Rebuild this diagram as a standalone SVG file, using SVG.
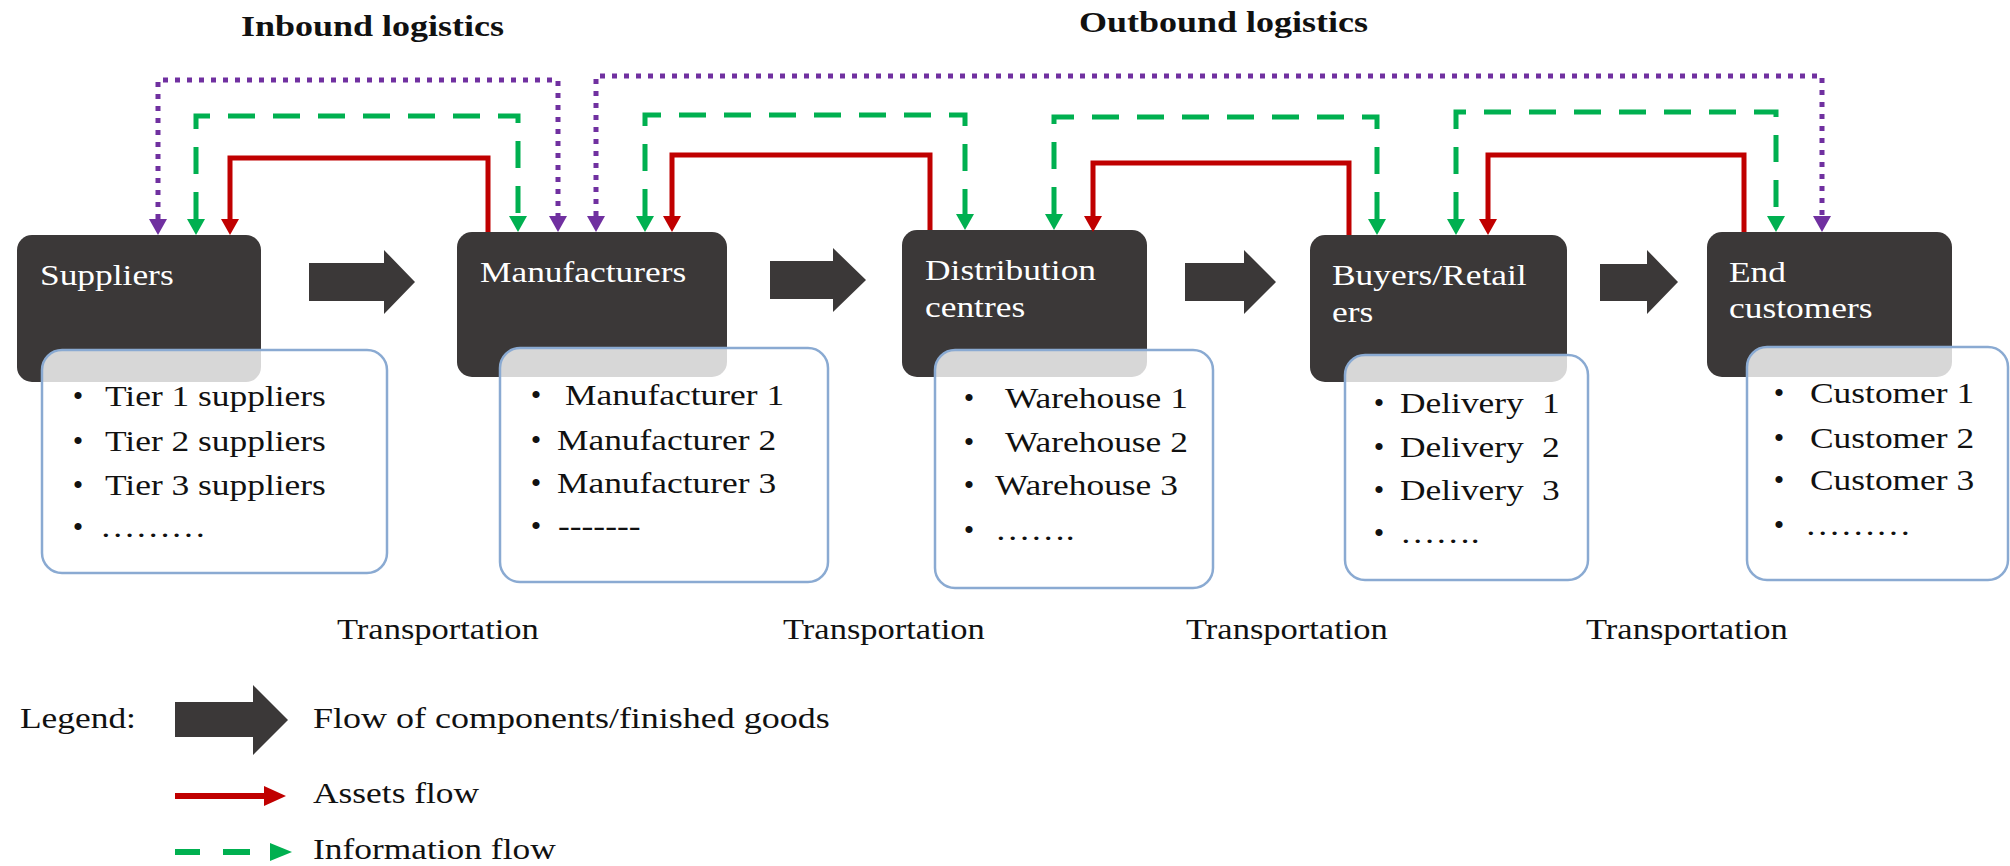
<svg xmlns="http://www.w3.org/2000/svg" width="2010" height="866" viewBox="0 0 2010 866">
<style>
  text { font-family: "Liberation Serif", "Times New Roman", serif; font-size: 30px; }
  .title { font-weight: bold; fill: #111; }
  .lbl { fill: #ffffff; }
  .item { fill: #111; }
  .bul { fill: #111; text-anchor: middle; }
  .node { fill: #3b3838; }
  .detail { fill: #ffffff; fill-opacity: 0.8; stroke: #8aaad2; stroke-width: 2.5; }
  .block { fill: #3b3838; }
  .red { fill: none; stroke: #c00000; stroke-width: 5; }
  .green { fill: none; stroke: #00b050; stroke-width: 5; stroke-dasharray: 27 18; }
  .purple { fill: none; stroke: #7030a0; stroke-width: 5; stroke-dasharray: 5 7; }
</style>
<defs>
  <marker id="mr" viewBox="0 -9 16 18" refX="0" refY="0" markerWidth="16" markerHeight="18" markerUnits="userSpaceOnUse" orient="auto-start-reverse">
    <path d="M0,-9 L16,0 L0,9 Z" fill="#c00000"/>
  </marker>
  <marker id="mg" viewBox="0 -9 16 18" refX="0" refY="0" markerWidth="16" markerHeight="18" markerUnits="userSpaceOnUse" orient="auto-start-reverse">
    <path d="M0,-9 L16,0 L0,9 Z" fill="#00b050"/>
  </marker>
  <marker id="mp" viewBox="0 -9 16 18" refX="0" refY="0" markerWidth="16" markerHeight="18" markerUnits="userSpaceOnUse" orient="auto-start-reverse">
    <path d="M0,-9 L16,0 L0,9 Z" fill="#7030a0"/>
  </marker>
</defs>
<rect x="0" y="0" width="2010" height="866" fill="#ffffff"/>

<g id="titles">
  <text class="title" transform="translate(241,36) scale(1.2,1)">Inbound logistics</text>
  <text class="title" transform="translate(1079,32) scale(1.2,1)">Outbound logistics</text>
</g>

<g id="node-suppliers">
  <rect class="node" x="17" y="235" width="244" height="147" rx="15"/>
  <text class="lbl" transform="translate(40,285) scale(1.18,1)">Suppliers</text>
  <rect class="detail" x="42" y="350" width="345" height="223" rx="20"/>
  <text class="bul" x="78" y="406">•</text>
  <text class="item" transform="translate(105,406) scale(1.18,1)">Tier 1 suppliers</text>
  <text class="bul" x="78" y="451">•</text>
  <text class="item" transform="translate(105,451) scale(1.18,1)">Tier 2 suppliers</text>
  <text class="bul" x="78" y="495">•</text>
  <text class="item" transform="translate(105,495) scale(1.18,1)">Tier 3 suppliers</text>
  <text class="bul" x="78" y="537">•</text>
  <text class="item" transform="translate(100,537) scale(1.18,1)">………</text>
</g>

<g id="node-manufacturers">
  <rect class="node" x="457" y="232" width="270" height="145" rx="15"/>
  <text class="lbl" transform="translate(480,282) scale(1.18,1)">Manufacturers</text>
  <rect class="detail" x="500" y="348" width="328" height="234" rx="20"/>
  <text class="bul" x="536" y="405">•</text>
  <text class="item" transform="translate(565,405) scale(1.18,1)">Manufacturer 1</text>
  <text class="bul" x="536" y="450">•</text>
  <text class="item" transform="translate(557,450) scale(1.18,1)">Manufacturer 2</text>
  <text class="bul" x="536" y="493">•</text>
  <text class="item" transform="translate(557,493) scale(1.18,1)">Manufacturer 3</text>
  <text class="bul" x="536" y="536">•</text>
  <text class="item" transform="translate(558,536) scale(1.18,1)">-------</text>
</g>

<g id="node-distribution">
  <rect class="node" x="902" y="230" width="245" height="147" rx="15"/>
  <text class="lbl" transform="translate(925,280) scale(1.18,1)">Distribution</text>
  <text class="lbl" transform="translate(925,317) scale(1.18,1)">centres</text>
  <rect class="detail" x="935" y="350" width="278" height="238" rx="20"/>
  <text class="bul" x="969" y="408">•</text>
  <text class="item" transform="translate(1005,408) scale(1.18,1)">Warehouse 1</text>
  <text class="bul" x="969" y="452">•</text>
  <text class="item" transform="translate(1005,452) scale(1.18,1)">Warehouse 2</text>
  <text class="bul" x="969" y="495">•</text>
  <text class="item" transform="translate(995,495) scale(1.18,1)">Warehouse 3</text>
  <text class="bul" x="969" y="540">•</text>
  <text class="item" transform="translate(995,540) scale(1.18,1)">…….</text>
</g>

<g id="node-buyers">
  <rect class="node" x="1310" y="235" width="257" height="147" rx="15"/>
  <text class="lbl" transform="translate(1332,285) scale(1.18,1)">Buyers/Retail</text>
  <text class="lbl" transform="translate(1332,322) scale(1.18,1)">ers</text>
  <rect class="detail" x="1345" y="355" width="243" height="225" rx="20"/>
  <text class="bul" x="1379" y="413">•</text>
  <text class="item" transform="translate(1400,413) scale(1.18,1)">Delivery <tspan dx="8">1</tspan></text>
  <text class="bul" x="1379" y="457">•</text>
  <text class="item" transform="translate(1400,457) scale(1.18,1)">Delivery <tspan dx="8">2</tspan></text>
  <text class="bul" x="1379" y="500">•</text>
  <text class="item" transform="translate(1400,500) scale(1.18,1)">Delivery <tspan dx="8">3</tspan></text>
  <text class="bul" x="1379" y="543">•</text>
  <text class="item" transform="translate(1400,543) scale(1.18,1)">…….</text>
</g>

<g id="node-end-customers">
  <rect class="node" x="1707" y="232" width="245" height="145" rx="15"/>
  <text class="lbl" transform="translate(1729,282) scale(1.18,1)">End</text>
  <text class="lbl" transform="translate(1729,318) scale(1.18,1)">customers</text>
  <rect class="detail" x="1747" y="347" width="261" height="233" rx="20"/>
  <text class="bul" x="1779" y="403">•</text>
  <text class="item" transform="translate(1810,403) scale(1.18,1)">Customer 1</text>
  <text class="bul" x="1779" y="448">•</text>
  <text class="item" transform="translate(1810,448) scale(1.18,1)">Customer 2</text>
  <text class="bul" x="1779" y="490">•</text>
  <text class="item" transform="translate(1810,490) scale(1.18,1)">Customer 3</text>
  <text class="bul" x="1779" y="535">•</text>
  <text class="item" transform="translate(1805,535) scale(1.18,1)">………</text>
</g>

<g id="connectors">
  <!-- information (purple dotted) -->
  <path class="purple" d="M158,219 V80 H558 V216" marker-start="url(#mp)" marker-end="url(#mp)"/>
  <path class="purple" d="M596,216 V76 H1822 V216" marker-start="url(#mp)" marker-end="url(#mp)"/>
  <!-- information flow (green dashed) -->
  <path class="green" d="M196,219 V116 H518 V216" marker-start="url(#mg)" marker-end="url(#mg)"/>
  <path class="green" d="M645,216 V115 H965 V214" marker-start="url(#mg)" marker-end="url(#mg)"/>
  <path class="green" d="M1054,214 V117 H1377 V219" marker-start="url(#mg)" marker-end="url(#mg)"/>
  <path class="green" d="M1456,219 V112 H1776 V216" marker-start="url(#mg)" marker-end="url(#mg)"/>
  <!-- assets flow (red) -->
  <path class="red" d="M488,232 V158 H230 V219" marker-end="url(#mr)"/>
  <path class="red" d="M930,230 V155 H672 V216" marker-end="url(#mr)"/>
  <path class="red" d="M1349,235 V163 H1093 V216" marker-end="url(#mr)"/>
  <path class="red" d="M1744,232 V155 H1488 V219" marker-end="url(#mr)"/>
  <!-- flow of goods (block arrows) -->
  <path class="block" d="M309,263 H384 V250 L415,282 L384,314 V301 H309 Z"/>
  <path class="block" d="M770,261 H833 V248 L866,280 L833,312 V299 H770 Z"/>
  <path class="block" d="M1185,263 H1244 V250 L1276,282 L1244,314 V301 H1185 Z"/>
  <path class="block" d="M1600,264 H1647 V250 L1678,282 L1647,314 V301 H1600 Z"/>
</g>

<g id="transport-labels">
  <text class="item" transform="translate(337,639) scale(1.15,1)">Transportation</text>
  <text class="item" transform="translate(783,639) scale(1.15,1)">Transportation</text>
  <text class="item" transform="translate(1186,639) scale(1.15,1)">Transportation</text>
  <text class="item" transform="translate(1586,639) scale(1.15,1)">Transportation</text>
</g>

<g id="legend">
  <text class="item" transform="translate(20,728) scale(1.18,1)">Legend:</text>
  <path class="block" d="M175,702 H253 V685 L288,720 L253,755 V737 H175 Z"/>
  <text class="item" transform="translate(313,728) scale(1.2,1)">Flow of components/finished goods</text>
  <line x1="175" y1="796" x2="266" y2="796" stroke="#c00000" stroke-width="6"/>
  <path d="M264,786 L286,796 L264,806 Z" fill="#c00000"/>
  <text class="item" transform="translate(313,803) scale(1.18,1)">Assets flow</text>
  <line x1="175" y1="852" x2="200" y2="852" stroke="#00b050" stroke-width="6"/>
  <line x1="223" y1="852" x2="250" y2="852" stroke="#00b050" stroke-width="6"/>
  <path d="M270,843 L292,852 L270,861 Z" fill="#00b050"/>
  <text class="item" transform="translate(313,859) scale(1.18,1)">Information flow</text>
</g>
</svg>
